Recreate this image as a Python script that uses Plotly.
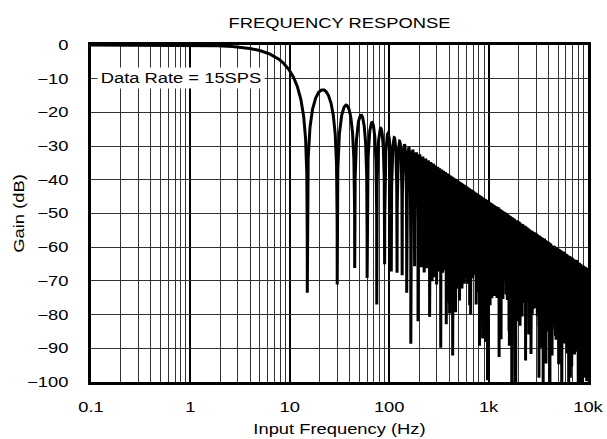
import numpy as np
import plotly.graph_objects as go

# ---- data ----
DATA_RATE_SPS = 15                      # from the "Data Rate = 15SPS" label
FREQ_RANGE_HZ = [0.1, 10000]            # x-axis span
POINTS_PER_DECADE = 2000                # sweep density of the measurement grid
X_TICK_VALUES = [0.1, 1, 10, 100, 1000, 10000]
X_TICK_LABELS = ["0.1", "1", "10", "100", "1k", "10k"]
Y_TICK_VALUES = [0, -10, -20, -30, -40, -50, -60, -70, -80, -90, -100]
Y_TICK_LABELS = ["0", "\u221210", "\u221220", "\u221230", "\u221240", "\u221250",
                 "\u221260", "\u221270", "\u221280", "\u221290", "\u2212100"]

# averaging (sinc) filter response of the converter at this data rate
decades = np.log10(FREQ_RANGE_HZ[1]) - np.log10(FREQ_RANGE_HZ[0])
freq = np.logspace(np.log10(FREQ_RANGE_HZ[0]), np.log10(FREQ_RANGE_HZ[1]),
                   int(decades * POINTS_PER_DECADE) + 1)
mag = np.abs(np.sinc(freq / DATA_RATE_SPS))
gain_db = 20 * np.log10(np.maximum(mag, 1e-12))

FONT = "Liberation Sans, Arial, Helvetica, sans-serif"
FS = 14

fig = go.Figure()
fig.add_trace(go.Scatter(x=freq, y=gain_db, mode="lines",
                         line=dict(color="black", width=3),
                         hoverinfo="skip", showlegend=False))

fig.update_layout(
    width=607, height=439,
    margin=dict(l=91, r=19, t=45, b=57, autoexpand=False),
    paper_bgcolor="white", plot_bgcolor="white",
    font=dict(family=FONT, size=FS, color="black"),
    title=dict(text="FREQUENCY RESPONSE", x=0.5, xref="paper", xanchor="center",
               y=1, yref="container", yanchor="top", pad=dict(t=18),
               font=dict(family=FONT, size=FS, color="black")),
    showlegend=False,
)

fig.update_xaxes(
    type="log", range=[np.log10(FREQ_RANGE_HZ[0]), np.log10(FREQ_RANGE_HZ[1])],
    tickvals=X_TICK_VALUES, ticktext=X_TICK_LABELS,
    showgrid=True, gridcolor="black", gridwidth=2,
    minor=dict(dtick="D1", showgrid=True, gridcolor="#333333", gridwidth=1, ticks=""),
    showline=True, linecolor="black", linewidth=2.5, mirror=True,
    ticks="", ticklabelstandoff=10, automargin=False,
    title=dict(text="Input Frequency (Hz)", standoff=11, font=dict(family=FONT, size=FS)),
    zeroline=False,
)
fig.update_yaxes(
    range=[-100, 0], tickvals=Y_TICK_VALUES, ticktext=Y_TICK_LABELS,
    showgrid=True, gridcolor="#333333", gridwidth=1,
    showline=True, linecolor="black", linewidth=2.5, mirror=True,
    ticks="", ticklabelstandoff=17, automargin=False,
    title=dict(text="Gain (dB)", standoff=10, font=dict(family=FONT, size=FS)),
    zeroline=False,
)

fig.add_annotation(
    text="Data Rate = 15SPS", xref="paper", yref="y", x=0.012, y=-9.8,
    xanchor="left", yanchor="middle", showarrow=False,
    width=166, height=20, align="center",
    bgcolor="white", borderpad=0,
    font=dict(family=FONT, size=FS, color="black"),
)

# the reference lettering is set wide (about 1.31x the usual advance for its height)
post = """
(function(){
  var gd = document.getElementById('{plot_id}');
  document.body.style.margin = '0px';
  document.body.style.overflow = 'hidden';
  function stretch(){
    var ts = document.querySelectorAll('svg text');
    for (var i = 0; i < ts.length; i++){
      var t = ts[i];
      var txt = t.textContent;
      if (t.getAttribute('data-st') === txt) continue;
      t.removeAttribute('textLength');
      var L = t.getComputedTextLength();
      if (!(L > 0)) continue;
      t.setAttribute('textLength', (L * 1.31).toFixed(2));
      t.setAttribute('lengthAdjust', 'spacingAndGlyphs');
      t.setAttribute('data-st', txt);
    }
  }
  stretch();
  if (gd && gd.on) gd.on('plotly_afterplot', stretch);
  [30, 120, 400, 1000, 2000].forEach(function(ms){ setTimeout(stretch, ms); });
})();
"""

fig.write_html("out.html", post_script=post, config={"displayModeBar": False})
